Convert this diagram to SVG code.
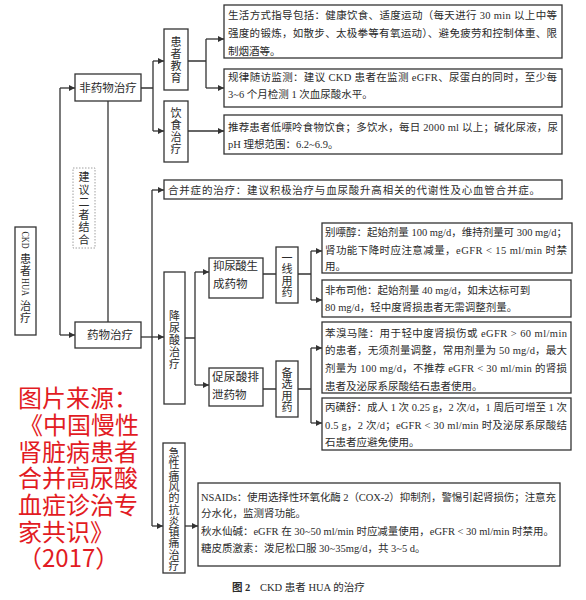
<svg xmlns="http://www.w3.org/2000/svg" width="586" height="600" viewBox="0 0 586 600">
<defs>
<style>
.bx{fill:#fff;stroke:#333;stroke-width:1.3}
.dbx{fill:#fff;stroke:#888;stroke-width:0.8;stroke-dasharray:1.5 1.5}
.cn{fill:none;stroke:#333;stroke-width:1.3}
.ar{fill:none;stroke:#333;stroke-width:1.3;marker-end:url(#ah)}
.t{font-family:'Liberation Serif','Noto Sans CJK SC',serif;font-size:10.5px;fill:#2b2b2b}
.l{font-family:'Liberation Serif','Noto Sans CJK SC',serif;font-size:11.5px;fill:#2b2b2b}
.v{font-family:'Liberation Serif','Noto Sans CJK SC',serif;font-size:11px;fill:#2b2b2b;text-anchor:middle;dominant-baseline:central}
.red{font-family:'Noto Sans CJK SC',sans-serif;font-size:24px;fill:#e21b23}
</style>
<marker id="ah" viewBox="0 0 10 10" refX="10" refY="5" markerWidth="8" markerHeight="6" markerUnits="userSpaceOnUse" orient="auto"><path d="M0,0 L10,5 L0,10 z" fill="#333"/></marker>
</defs>
<rect width="586" height="600" fill="#fff"/>

<g id="connectors">
<path class="cn" d="M60,211 V88"/><path class="ar" d="M60,88 H75"/>
<path class="cn" d="M60,211 V335"/><path class="ar" d="M60,335 H75"/>
<path class="cn" d="M108,101 V322"/>
<path class="cn" d="M141,88 H153 M153,61 V131"/>
<path class="ar" d="M153,61 H164"/><path class="ar" d="M153,131 H164"/>
<path class="cn" d="M188,61 H206 M206,39 V88"/>
<path class="ar" d="M206,39 H224"/><path class="ar" d="M206,88 H224"/>
<path class="ar" d="M188,131 H224"/>
<path class="ar" d="M141,337 H164"/>
<path class="cn" d="M152,190 V526"/>
<path class="ar" d="M152,190 H164"/><path class="ar" d="M152,526 H163"/>
<path class="cn" d="M185,338 H195 M195,272 V385"/>
<path class="ar" d="M195,272 H209"/><path class="ar" d="M195,385 H209"/>
<path class="cn" d="M263,274 H276 M263,389 H276"/>
<path class="cn" d="M298,274 H311 M311,251 V300"/>
<path class="ar" d="M311,251 H322"/><path class="ar" d="M311,300 H322"/>
<path class="cn" d="M298,389 H311 M311,348 V423"/>
<path class="ar" d="M311,348 H322"/><path class="ar" d="M311,423 H322"/>
<path class="ar" d="M185,526 H198"/>
</g>

<g id="ckd">
<rect class="bx" x="15" y="227" width="21" height="108"/>
<text class="t" font-size="10" text-anchor="middle" dominant-baseline="central" transform="translate(25.5,240) rotate(90)" textLength="17" lengthAdjust="spacingAndGlyphs">CKD</text>
<text class="v"><tspan x="25.5" y="259">患</tspan><tspan x="25.5" y="271">者</tspan></text>
<text class="t" font-size="10" text-anchor="middle" dominant-baseline="central" transform="translate(25.5,287) rotate(90)" textLength="18" lengthAdjust="spacingAndGlyphs">HUA</text>
<text class="v"><tspan x="25.5" y="306">治</tspan><tspan x="25.5" y="318">疗</tspan></text>
</g>

<g id="combine">
<rect class="dbx" x="73" y="168" width="22" height="80"/>
<text class="v" fill="#555"><tspan x="84" y="177">建</tspan><tspan x="84" y="189.5">议</tspan><tspan x="84" y="202">二</tspan><tspan x="84" y="214.5">者</tspan><tspan x="84" y="227">结</tspan><tspan x="84" y="239.5">合</tspan></text>
</g>

<g id="nondrug">
<rect class="bx" x="75" y="74" width="66" height="27"/>
<text class="l" x="108" y="92" text-anchor="middle">非药物治疗</text>
</g>

<g id="drug">
<rect class="bx" x="75" y="322" width="66" height="26"/>
<text class="l" x="110" y="339" text-anchor="middle">药物治疗</text>
</g>

<g id="edu">
<rect class="bx" x="164" y="29" width="24" height="61"/>
<text class="v"><tspan x="176" y="41.5">患</tspan><tspan x="176" y="53.5">者</tspan><tspan x="176" y="65.5">教</tspan><tspan x="176" y="77.5">育</tspan></text>
</g>

<g id="diet">
<rect class="bx" x="164" y="101" width="24" height="61"/>
<text class="v"><tspan x="176" y="112.5">饮</tspan><tspan x="176" y="124.5">食</tspan><tspan x="176" y="136.5">治</tspan><tspan x="176" y="148.5">疗</tspan></text>
</g>

<g id="lifestyle">
<rect class="bx" x="224" y="5" width="338" height="53"/>
<text class="t" x="228" y="19" textLength="329" lengthAdjust="spacing">生活方式指导包括：健康饮食、适度运动（每天进行 30 min 以上中等</text>
<text class="t" x="228" y="37" textLength="329" lengthAdjust="spacing">强度的锻炼，如散步、太极拳等有氧运动）、避免疲劳和控制体重、限</text>
<text class="t" x="228" y="55">制烟酒等。</text>
</g>

<g id="monitor">
<rect class="bx" x="224" y="69" width="338" height="38"/>
<text class="t" x="228" y="81" textLength="329" lengthAdjust="spacing">规律随访监测：建议 CKD 患者在监测 eGFR、尿蛋白的同时，至少每</text>
<text class="t" x="228" y="98">3~6 个月检测 1 次血尿酸水平。</text>
</g>

<g id="dietbox">
<rect class="bx" x="224" y="115" width="338" height="39"/>
<text class="t" x="228" y="131" textLength="330" lengthAdjust="spacing">推荐患者低嘌呤食物饮食；多饮水，每日 2000 ml 以上；碱化尿液，尿</text>
<text class="t" x="228" y="148">pH 理想范围：6.2~6.9。</text>
</g>

<g id="comorb">
<rect class="bx" x="164" y="180" width="398" height="19"/>
<text class="t" x="168" y="194" textLength="372" lengthAdjust="spacing">合并症的治疗：建议积极治疗与血尿酸升高相关的代谢性及心血管合并症。</text>
</g>

<g id="ult">
<rect class="bx" x="164" y="272" width="21" height="132"/>
<text class="v"><tspan x="174.5" y="315.5">降</tspan><tspan x="174.5" y="327.5">尿</tspan><tspan x="174.5" y="339.5">酸</tspan><tspan x="174.5" y="351.5">治</tspan><tspan x="174.5" y="363.5">疗</tspan></text>
</g>

<g id="inhibit">
<rect class="bx" x="209" y="258" width="54" height="40"/>
<text class="l" font-size="11" x="213" y="270" textLength="45" lengthAdjust="spacing">抑尿酸生</text>
<text class="l" font-size="11" x="213" y="287.5">成药物</text>
</g>

<g id="promote">
<rect class="bx" x="209" y="368" width="54" height="38"/>
<text class="l" font-size="11" x="212" y="381" textLength="47" lengthAdjust="spacing">促尿酸排</text>
<text class="l" font-size="11" x="212" y="399">泄药物</text>
</g>

<g id="first">
<rect class="bx" x="276" y="247" width="22" height="56"/>
<text class="v"><tspan x="287" y="257.5">一</tspan><tspan x="287" y="269">线</tspan><tspan x="287" y="280.5">用</tspan><tspan x="287" y="292">药</tspan></text>
</g>

<g id="alt">
<rect class="bx" x="276" y="361" width="22" height="56"/>
<text class="v"><tspan x="287" y="372.5">备</tspan><tspan x="287" y="384">选</tspan><tspan x="287" y="395.5">用</tspan><tspan x="287" y="407">药</tspan></text>
</g>

<g id="allopurinol">
<rect class="bx" x="322" y="223" width="250" height="50"/>
<text class="t" x="325" y="236" textLength="242" lengthAdjust="spacing">别嘌醇：起始剂量 100 mg/d，维持剂量可 300 mg/d；</text>
<text class="t" x="325" y="254" textLength="242" lengthAdjust="spacing">肾功能下降时应注意减量，eGFR &lt; 15 ml/min 时禁</text>
<text class="t" x="325" y="270">用。</text>
</g>

<g id="febuxostat">
<rect class="bx" x="322" y="280" width="249" height="37"/>
<text class="t" x="325" y="294">非布司他：起始剂量 40 mg/d，如未达标可到</text>
<text class="t" x="325" y="311">80 mg/d，轻中度肾损患者无需调整剂量。</text>
</g>

<g id="benzbromarone">
<rect class="bx" x="322" y="322" width="249" height="71"/>
<text class="t" x="325" y="337" textLength="242" lengthAdjust="spacing">苯溴马隆：用于轻中度肾损伤或 eGFR &gt; 60 ml/min</text>
<text class="t" x="325" y="354" textLength="242" lengthAdjust="spacing">的患者，无须剂量调整，常用剂量为 50 mg/d，最大</text>
<text class="t" x="325" y="372" textLength="242" lengthAdjust="spacing">剂量为 100 mg/d，不推荐 eGFR &lt; 30 ml/min 的肾损</text>
<text class="t" x="325" y="390">患者及泌尿系尿酸结石患者使用。</text>
</g>

<g id="probenecid">
<rect class="bx" x="322" y="398" width="249" height="52"/>
<text class="t" x="325" y="411" textLength="242" lengthAdjust="spacing">丙磺舒：成人 1 次 0.25 g，2 次/d，1 周后可增至 1 次</text>
<text class="t" x="325" y="429" textLength="242" lengthAdjust="spacing">0.5 g，2 次/d；eGFR &lt; 30 ml/min 时及泌尿系尿酸结</text>
<text class="t" x="325" y="446">石患者应避免使用。</text>
</g>

<g id="gout">
<rect class="bx" x="163" y="443" width="22" height="130"/>
<text class="v" font-size="10.3"><tspan x="174" y="453">急</tspan><tspan x="174" y="464.3">性</tspan><tspan x="174" y="475.6">痛</tspan><tspan x="174" y="486.9">风</tspan><tspan x="174" y="498.2">的</tspan><tspan x="174" y="509.5">抗</tspan><tspan x="174" y="520.8">炎</tspan><tspan x="174" y="532.1">镇</tspan><tspan x="174" y="543.4">痛</tspan><tspan x="174" y="554.7">治</tspan><tspan x="174" y="566">疗</tspan></text>
</g>

<g id="nsaids">
<rect class="bx" x="198" y="483" width="362" height="83"/>
<text class="t" x="201" y="501" textLength="355" lengthAdjust="spacing">NSAIDs：使用选择性环氧化酶 2（COX-2）抑制剂，警惕引起肾损伤；注意充</text>
<text class="t" x="201" y="517">分水化，监测肾功能。</text>
<text class="t" x="201" y="535" textLength="353" lengthAdjust="spacing">秋水仙碱：eGFR 在 30~50 ml/min 时应减量使用，eGFR &lt; 30 ml/min 时禁用。</text>
<text class="t" x="201" y="552">糖皮质激素：泼尼松口服 30~35mg/d，共 3~5 d。</text>
</g>

<g id="caption">
<text class="t" x="232" y="591"><tspan font-weight="bold">图 2</tspan><tspan x="260">CKD 患者 HUA 的治疗</tspan></text>
</g>

<g id="source">
<text class="red" x="18" y="407">图片来源：</text>
<text class="red" x="19" y="434">《中国慢性</text>
<text class="red" x="18" y="461">肾脏病患者</text>
<text class="red" x="18" y="487">合并高尿酸</text>
<text class="red" x="18" y="514">血症诊治专</text>
<text class="red" x="18" y="541">家共识》</text>
<text class="red" x="18" y="567">（2017）</text>
</g>
</svg>
